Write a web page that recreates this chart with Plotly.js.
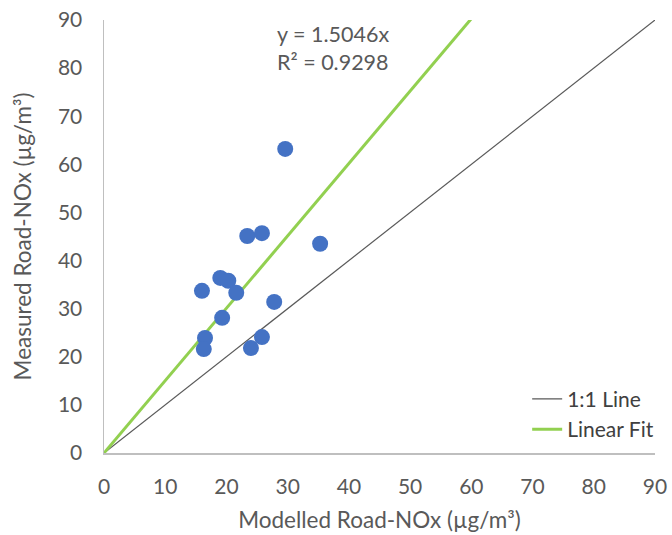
<!DOCTYPE html>
<html>
<head>
<meta charset="utf-8">
<script src="https://cdn.plot.ly/plotly-3.0.1.min.js"></script>
<style>html,body{margin:0;padding:0;background:#fff;}#chart{width:672px;height:535px;}</style>
</head>
<body>
<div id="chart"></div>
<script>
// Data
const modelled = [29.6, 23.4, 25.8, 35.3, 19.0, 20.3, 16.0, 21.6, 27.8, 19.3, 16.5, 16.3, 24.0, 25.8];
const measured = [63.2, 45.1, 45.7, 43.5, 36.4, 35.8, 33.7, 33.3, 31.4, 28.1, 23.9, 21.6, 21.8, 24.1];
const slope = 1.5046;
const rSquared = 0.9298;
const oneToOneX = [0, 90];
const oneToOneY = [0, 90];
const fitX = [0, 60];
const fitY = fitX.map(v => slope * v);
const axisTicks = [0, 10, 20, 30, 40, 50, 60, 70, 80, 90];

const FONT = 'Lato, "Open Sans", sans-serif';
const traces = [
  {x: oneToOneX, y: oneToOneY, mode: 'lines', name: '1:1 Line',
   line: {color: '#595959', width: 1.2}},
  {x: fitX, y: fitY, mode: 'lines', name: 'Linear Fit',
   line: {color: '#92D050', width: 3}},
  {x: modelled, y: measured, mode: 'markers', name: 'Data', showlegend: false,
   marker: {color: '#4472C4', size: 16}}
];

const axisCommon = {
  range: [0, 90], tickvals: axisTicks, ticktext: axisTicks.map(String),
  showgrid: false, zeroline: false, showline: true, linecolor: '#BFBFBF', linewidth: 1.5,
  ticks: '', tickfont: {family: FONT, size: 21, color: '#595959'}, fixedrange: true,
  automargin: false
};

const layout = {
  width: 672, height: 535,
  margin: {l: 104, r: 17, t: 20, b: 82},
  paper_bgcolor: '#ffffff', plot_bgcolor: '#ffffff',
  font: {family: FONT, color: '#595959'},
  xaxis: Object.assign({}, axisCommon, {
    ticklabelstandoff: 14,
    title: {text: 'Modelled Road-NOx (µg/m³)', font: {family: FONT, size: 22.5, color: '#595959'}, standoff: 15}
  }),
  yaxis: Object.assign({}, axisCommon, {
    ticklabelstandoff: 16,
    title: {text: 'Measured Road-NOx (µg/m³)', font: {family: FONT, size: 22.5, color: '#595959'}, standoff: 20}
  }),
  showlegend: true,
  legend: {x: 0.768, y: 0.1715, xanchor: 'left', yanchor: 'top', bgcolor: 'rgba(0,0,0,0)',
           font: {family: FONT, size: 21, color: '#404040'}, tracegroupgap: 0},
  annotations: [
    {xref: 'paper', yref: 'paper', x: 0.31, y: 0.968, xanchor: 'left', yanchor: 'middle', showarrow: false,
     text: 'y = ' + slope + 'x', font: {family: FONT, size: 21.5, color: '#595959'}},
    {xref: 'paper', yref: 'paper', x: 0.31, y: 0.903, xanchor: 'left', yanchor: 'middle', showarrow: false,
     text: 'R² = ' + rSquared, font: {family: FONT, size: 21.5, color: '#595959'}}
  ]
};

Plotly.newPlot('chart', traces, layout, {displayModeBar: false, staticPlot: true});
</script>
</body>
</html>
